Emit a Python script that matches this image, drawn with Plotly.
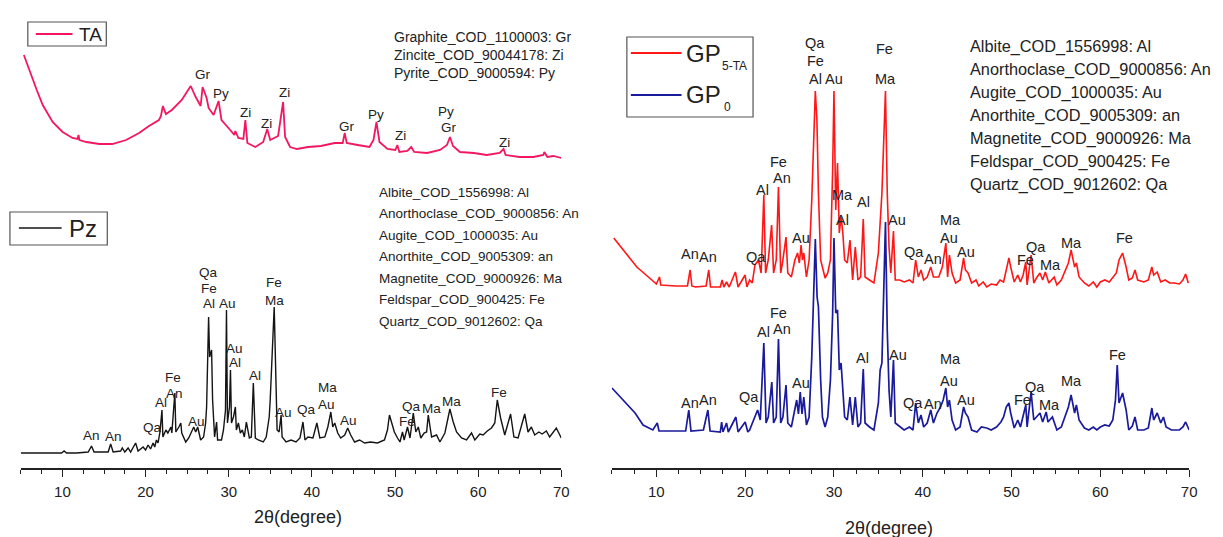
import plotly.graph_objects as go

W, H = 1223, 537
AXIS_Y = 468          # pixel row of both 2θ axes
FONT = "Liberation Sans, Arial, sans-serif"
INK = "#222222"

# ---------------- XRD patterns: 2θ (degree) and intensity (a.u.) ----------------
ta_2theta = [5.36, 6.08, 6.91, 7.63, 8.82, 10.02, 11.21, 11.81, 11.93, 12.05,
             12.89, 14.44, 15.99, 17.66, 19.22, 20.41, 21.61, 21.85, 22.08, 22.44,
             23.16, 24.35, 25.19, 25.43, 26.03, 26.62, 26.86, 27.10, 27.22, 27.34,
             27.58, 28.18, 28.78, 29.13, 29.97, 30.68, 30.80, 31.16, 31.76, 32.00,
             32.24, 33.20, 34.15, 34.63, 34.99, 35.94, 36.54, 36.78, 37.38, 38.21,
             39.53, 41.08, 42.75, 43.71, 43.95, 44.19, 45.50, 46.93, 47.41, 47.77,
             48.13, 49.09, 50.04, 50.28, 50.52, 51.48, 51.95, 52.31, 53.86, 55.42,
             56.25, 56.61, 56.97, 57.81, 59.48, 61.03, 62.59, 63.06, 63.30, 64.98,
             66.65, 67.84, 67.96, 68.32, 69.04, 69.40, 70.00]
ta_counts = [105, 88, 70, 55, 38, 28, 22, 21, 25, 20,
             18, 16, 16, 20, 27, 34, 40, 44, 54, 46,
             50, 60, 70, 74, 63, 54, 73, 67, 66, 62,
             52, 45, 59, 40, 32, 25, 29, 22, 21, 40,
             17, 13, 18, 31, 20, 24, 58, 23, 13, 11,
             13, 14, 17, 17, 27, 17, 15, 13, 20, 38,
             18, 11, 10, 15, 8, 9, 13, 8, 7, 10,
             15, 23, 14, 8, 7, 5, 7, 11, 5, 3,
             3, 5, 8, 3, 4, 3, 2]

pz_2theta = [5.0, 7.1, 9.9, 10.2, 10.5, 11.7, 13.1, 13.5, 13.8, 14.9,
             15.5, 15.8, 16.1, 17.0, 17.2, 17.5, 17.9, 18.2, 18.8, 19.1,
             19.7, 20.0, 20.3, 20.6, 20.9, 21.1, 21.3, 21.5, 21.73, 21.97,
             22.08, 22.44, 22.68, 23.04, 23.16, 23.52, 23.64, 24.0, 24.24, 24.35,
             24.83, 25.19, 25.55, 25.79, 26.03, 26.27, 26.62, 26.98, 27.22, 27.34,
             27.58, 27.7, 27.94, 28.06, 28.3, 28.54, 28.66, 29.13, 29.37, 29.61,
             29.73, 29.85, 30.09, 30.21, 30.33, 30.57, 30.8, 30.92, 31.16, 31.4,
             31.64, 31.88, 32.12, 32.48, 32.72, 32.96, 33.2, 33.55, 34.15, 34.51,
             34.87, 34.99, 35.47, 35.7, 35.82, 36.06, 36.3, 36.42, 36.9, 37.5,
             38.09, 38.57, 38.93, 39.17, 39.53, 40.13, 40.6, 40.96, 41.56, 41.92,
             42.28, 42.51, 42.75, 43.11, 43.47, 43.95, 44.31, 44.67, 45.14, 45.74,
             46.34, 47.06, 47.89, 48.73, 49.09, 49.33, 49.92, 50.3, 50.6, 50.9,
             51.1, 51.5, 51.8, 52.2, 52.5, 52.8, 53.1, 53.5, 53.8, 54.0,
             54.4, 55.0, 55.4, 56.0, 56.6, 57.0, 57.4, 58.0, 58.6, 59.2,
             59.6, 60.2, 60.6, 61.1, 61.6, 62.0, 62.3, 62.7, 63.2, 63.9,
             64.3, 64.8, 65.6, 66.0, 66.4, 66.8, 67.3, 67.7, 68.2, 68.6,
             69.4, 70.0]
pz_counts = [2, 2, 2, 4, 2, 2, 3, 9, 3, 3,
             3, 11, 3, 4, 7, 3, 7, 3, 12, 4,
             8, 5, 10, 6, 12, 8, 15, 12, 23, 45,
             18, 25, 22, 28, 22, 62, 23, 28, 32, 22,
             13, 17, 23, 28, 23, 28, 15, 18, 32, 48,
             138, 98, 105, 55, 18, 33, 15, 15, 25, 45,
             145, 32, 48, 85, 32, 38, 48, 25, 32, 22,
             25, 18, 33, 17, 18, 72, 17, 15, 13, 18,
             38, 55, 148, 72, 25, 23, 40, 18, 13, 15,
             13, 17, 33, 15, 18, 17, 32, 17, 18, 28,
             43, 28, 32, 22, 17, 20, 27, 20, 13, 15,
             12, 13, 12, 15, 25, 40, 23, 17, 13, 23,
             15, 28, 17, 42, 23, 28, 17, 22, 23, 40,
             18, 20, 13, 22, 46, 33, 23, 17, 15, 22,
             15, 21, 20, 24, 27, 32, 55, 37, 20, 41,
             18, 17, 41, 23, 28, 20, 23, 21, 24, 18,
             27, 17]

gp5ta_2theta = [5.2, 6.5, 7.8, 9.1, 10.0, 10.35, 10.5, 12.2, 13.5, 13.8,
                14.0, 14.4, 15.6, 15.9, 16.1, 17.2, 17.4, 17.6, 17.9, 18.2,
                18.9, 19.2, 19.99, 20.2, 20.5, 20.8, 21.1, 21.5, 21.8, 22.1,
                22.3, 22.6, 22.98, 23.2, 23.5, 23.75, 24.0, 24.2, 24.6, 24.8,
                25.2, 25.6, 25.9, 26.1, 26.3, 26.45, 26.6, 26.9, 27.2, 27.5,
                27.9, 28.08, 28.25, 28.5, 28.7, 29.0, 29.3, 29.6, 29.85, 30.0,
                30.2, 30.4, 30.6, 30.8, 31.0, 31.2, 31.5, 31.8, 32.1, 32.4,
                32.7, 33.0, 33.3, 33.5, 34.0, 34.5, 35.0, 35.2, 35.4, 35.8,
                36.0, 36.2, 36.4, 36.7, 36.9, 37.4, 37.9, 38.5, 38.9, 39.2,
                39.5, 39.8, 40.1, 40.5, 40.9, 41.2, 41.8, 42.2, 42.6, 42.8,
                43.0, 43.3, 43.7, 44.2, 44.6, 44.8, 45.1, 45.5, 46.0, 46.3,
                46.8, 47.2, 47.7, 48.3, 48.7, 49.1, 49.4, 49.7, 49.9, 50.3,
                50.7, 51.0, 51.3, 51.6, 51.75, 52.0, 52.2, 52.5, 52.8, 53.2,
                53.5, 53.8, 54.2, 54.8, 55.1, 55.6, 56.4, 56.7, 57.1, 57.3,
                57.6, 58.2, 58.7, 59.2, 59.6, 60.0, 60.5, 61.0, 61.4, 61.8,
                62.1, 62.5, 62.9, 63.2, 63.6, 63.9, 64.2, 64.9, 65.4, 65.8,
                66.0, 66.4, 66.8, 67.3, 67.8, 68.3, 68.9, 69.3, 69.6, 69.9]
gp5ta_counts = [52, 37, 23, 13, 6, 13, 5, 4, 4, 20,
                4, 3, 4, 20, 3, 3, 10, 3, 8, 3,
                18, 3, 15, 3, 10, 7, 25, 30, 17, 95,
                17, 30, 65, 17, 30, 103, 17, 27, 53, 17,
                13, 30, 37, 27, 45, 30, 37, 13, 30, 90,
                199, 170, 97, 30, 23, 12, 17, 30, 120, 199,
                80, 127, 57, 73, 57, 30, 27, 50, 10, 43,
                10, 13, 71, 13, 10, 7, 37, 63, 97, 199,
                97, 43, 17, 59, 10, 10, 8, 10, 7, 30,
                13, 20, 10, 13, 23, 13, 13, 23, 47, 13,
                35, 17, 7, 10, 32, 20, 17, 7, 10, 4,
                8, 3, 6, 5, 10, 8, 20, 32, 23, 8,
                15, 8, 15, 28, 5, 25, 35, 7, 12, 17,
                10, 18, 7, 13, 5, 10, 27, 40, 23, 27,
                13, 7, 4, 8, 3, 8, 10, 8, 13, 17,
                30, 37, 23, 10, 12, 20, 10, 8, 10, 23,
                15, 18, 8, 10, 7, 7, 6, 10, 16, 7]

gp0_2theta = [5.0, 6.3, 7.6, 8.5, 9.6, 10.1, 10.3, 12.0, 13.3, 13.65,
              13.9, 15.3, 15.8, 16.05, 17.2, 17.35, 17.5, 17.9, 18.1, 18.95,
              19.2, 20.0, 20.3, 20.5, 20.8, 21.1, 21.4, 21.7, 22.1, 22.35,
              22.6, 23.0, 23.2, 23.5, 23.75, 24.0, 24.25, 24.6, 24.8, 25.2,
              25.6, 25.8, 26.0, 26.2, 26.4, 26.6, 26.9, 27.2, 27.5, 27.9,
              28.1, 28.25, 28.5, 28.7, 29.0, 29.3, 29.6, 29.85, 30.0, 30.2,
              30.4, 30.6, 30.8, 31.0, 31.2, 31.5, 31.8, 32.1, 32.4, 32.7,
              33.0, 33.3, 33.5, 34.0, 34.5, 35.0, 35.2, 35.4, 35.8, 36.0,
              36.2, 36.4, 36.7, 36.9, 37.4, 37.9, 38.5, 38.9, 39.2, 39.5,
              39.8, 40.1, 40.5, 40.9, 41.2, 41.6, 42.0, 42.3, 42.6, 42.8,
              43.0, 43.3, 43.7, 44.2, 44.6, 44.8, 45.1, 45.5, 46.1, 46.6,
              47.2, 47.7, 48.3, 48.8, 49.1, 49.4, 49.7, 49.9, 50.3, 50.7,
              51.0, 51.3, 51.6, 51.75, 52.0, 52.2, 52.5, 52.8, 53.2, 53.5,
              53.9, 54.1, 54.6, 55.1, 55.6, 56.4, 56.7, 57.1, 57.3, 57.6,
              58.2, 58.7, 59.2, 59.6, 60.0, 60.5, 61.0, 61.4, 61.7, 61.9,
              62.1, 62.5, 62.9, 63.2, 63.6, 63.9, 64.2, 64.9, 65.4, 65.8,
              66.0, 66.4, 66.8, 67.1, 67.4, 68.0, 68.9, 69.3, 69.6, 70.0]
gp0_counts = [46, 34, 21, 9, 4, 11, 3, 3, 3, 24,
              3, 4, 24, 3, 2, 12, 2, 11, 2, 17,
              2, 12, 2, 4, 11, 17, 24, 14, 91, 11,
              17, 52, 11, 17, 95, 11, 17, 49, 11, 7,
              27, 34, 20, 42, 20, 37, 9, 17, 77, 195,
              137, 127, 54, 17, 7, 17, 54, 120, 196, 121,
              124, 64, 71, 44, 17, 14, 37, 9, 37, 7,
              11, 65, 11, 7, 4, 31, 64, 71, 212, 104,
              44, 17, 74, 11, 7, 4, 7, 4, 31, 11,
              19, 7, 11, 24, 11, 21, 27, 34, 46, 27,
              34, 14, 4, 7, 27, 21, 17, 4, 2, 7,
              6, 4, 7, 12, 17, 27, 31, 21, 6, 14,
              7, 17, 29, 7, 27, 42, 14, 17, 21, 12,
              22, 12, 17, 4, 7, 27, 39, 21, 29, 14,
              6, 4, 7, 4, 7, 9, 8, 14, 34, 69,
              31, 41, 24, 4, 8, 17, 4, 4, 6, 26,
              14, 21, 11, 17, 7, 4, 4, 7, 12, 4]

# phase reference lists
ta_phases = ["Graphite_COD_1100003: Gr", "Zincite_COD_90044178: Zi", "Pyrite_COD_9000594: Py"]
pz_phases = ["Albite_COD_1556998: Al", "Anorthoclase_COD_9000856: An", "Augite_COD_1000035: Au",
             "Anorthite_COD_9005309: an", "Magnetite_COD_9000926: Ma", "Feldspar_COD_900425: Fe",
             "Quartz_COD_9012602: Qa"]

# ---------------- figure ----------------
fig = go.Figure()


def add_pattern(x, counts, baseline_px, color, width, xa, ya):
    offset = AXIS_Y - baseline_px
    fig.add_trace(go.Scatter(
        x=x, y=[offset + c for c in counts], mode="lines",
        line=dict(color=color, width=width), xaxis=xa, yaxis=ya,
        showlegend=False, hoverinfo="skip"))


add_pattern(ta_2theta, ta_counts, 160, "#f2175f", 1.8, "x", "y")
add_pattern(pz_2theta, pz_counts, 455, "#141414", 1.4, "x", "y")
add_pattern(gp5ta_2theta, gp5ta_counts, 290, "#ff1616", 1.6, "x2", "y2")
add_pattern(gp0_2theta, gp0_counts, 434, "#1a1a9c", 1.7, "x2", "y2")

x_style = dict(range=[5, 70], showline=True, linecolor=INK, linewidth=1.5,
               ticks="outside", ticklen=7, tickwidth=1.3, tickcolor=INK,
               tick0=0, dtick=10, showgrid=False, zeroline=False,
               tickfont=dict(family=FONT, size=15, color=INK),
               ticklabelstandoff=2,
               minor=dict(ticks="outside", dtick=2.5, tick0=0, ticklen=4,
                          tickwidth=1.2, tickcolor=INK, showgrid=False),
               fixedrange=True)
y_style = dict(domain=[(H - AXIS_Y) / H, 1], range=[0, AXIS_Y], visible=False,
               fixedrange=True)

fig.update_layout(
    width=W, height=H, margin=dict(l=0, r=0, t=0, b=0),
    paper_bgcolor="white", plot_bgcolor="rgba(0,0,0,0)", showlegend=False,
    xaxis=dict(domain=[21 / W, 565 / W], anchor="y", **x_style),
    xaxis2=dict(domain=[616 / W, 1197 / W], anchor="y2", **x_style),
    yaxis=dict(**y_style),
    yaxis2=dict(**y_style),
)


def px(x):
    return x / W


def py(y):
    return 1 - y / H


annotations = []
shapes = []


def paper_text(x, y, text, size, anchor="left", family=FONT):
    annotations.append(dict(xref="paper", yref="paper", x=px(x), y=py(y), text=text,
                            showarrow=False, xanchor=anchor, yanchor="middle",
                            font=dict(family=family, size=size, color=INK)))


def peak_label(axis, two_theta, y_pix, text, size):
    annotations.append(dict(xref=axis, yref="y" if axis == "x" else "y2",
                            x=two_theta, y=AXIS_Y - y_pix, text=text, showarrow=False,
                            xanchor="center", yanchor="middle",
                            font=dict(family=FONT, size=size, color=INK)))


def box(x0, y0, x1, y1):
    shapes.append(dict(type="rect", xref="paper", yref="paper",
                       x0=px(x0), x1=px(x1), y0=py(y1), y1=py(y0),
                       line=dict(color="#555555", width=1.2), fillcolor="rgba(0,0,0,0)"))


def key_line(x0, x1, y, color, width):
    shapes.append(dict(type="line", xref="paper", yref="paper",
                       x0=px(x0), x1=px(x1), y0=py(y), y1=py(y),
                       line=dict(color=color, width=width)))


# legend keys
box(28, 22, 107, 46)
key_line(36, 73, 34, "#f2175f", 2)
paper_text(78, 34, "TA", 19)

box(10, 212, 108, 245)
key_line(19, 62, 228, "#141414", 1.6)
paper_text(67, 229, "Pz", 24)

box(631, 37, 758, 117)
key_line(635, 686, 53, "#ff1616", 2)
key_line(635, 686, 95, "#1a1a9c", 2)
paper_text(689, 53, "GP", 24)
paper_text(725, 66, "5-TA", 12)
paper_text(689, 95, "GP", 24)
paper_text(727, 107, "0", 12)

# phase lists
for i, t in enumerate(ta_phases):
    paper_text(395, 37 + 18 * i, t, 14)
for i, t in enumerate(pz_phases):
    paper_text(379, 192 + 21.5 * i, t, 13.5)
for i, t in enumerate(pz_phases):
    paper_text(974, 46 + 23 * i, t, 16.3)

# axis titles
paper_text(300, 517, "2θ(degree)", 18, anchor="center")
paper_text(895, 528, "2θ(degree)", 18, anchor="center")

# peak assignments, TA
for t2, yp, s in [(26.86, 74, "Gr"), (29.13, 93, "Py"), (32.0, 112, "Zi"), (34.5, 123, "Zi"),
                  (36.66, 92, "Zi"), (44.19, 126, "Gr"), (47.77, 114, "Py"), (50.64, 135, "Zi"),
                  (56.13, 111, "Py"), (56.49, 127, "Gr"), (63.18, 142, "Zi")]:
    peak_label("x", t2, yp, s, 13.5)

# peak assignments, Pz
for t2, yp, s in [(13.45, 435, "An"), (16.1, 436, "An"), (20.85, 427, "Qa"), (21.85, 402, "Al"),
                  (23.25, 377, "Fe"), (23.45, 393, "An"), (26.1, 421, "Au"),
                  (27.6, 272, "Qa"), (27.65, 288, "Fe"), (27.6, 303, "Al"), (29.9, 303, "Au"),
                  (30.75, 348, "Au"), (30.75, 362, "Al"), (33.2, 375, "Al"),
                  (35.4, 282, "Fe"), (35.5, 300, "Ma"), (36.6, 412, "Au"), (39.3, 409, "Qa"),
                  (41.85, 387, "Ma"), (41.8, 404, "Au"), (44.35, 420, "Au"),
                  (51.95, 406, "Qa"), (51.5, 421, "Fe"), (54.35, 408, "Ma"), (56.75, 401, "Ma"),
                  (62.45, 392, "Fe")]:
    peak_label("x", t2, yp, s, 13.5)

# peak assignments, GP5-TA
for t2, yp, s in [(27.85, 43, "Qa"), (27.9, 61, "Fe"), (27.95, 79, "Al"), (29.95, 79, "Au"),
                  (35.7, 49, "Fe"), (35.75, 79, "Ma"),
                  (23.8, 162, "Fe"), (24.1, 178, "An"), (22.0, 190, "Al"),
                  (30.95, 195, "Ma"), (30.95, 220, "Al"), (33.3, 202, "Al"), (37.1, 220, "Au"),
                  (26.25, 238, "Au"), (13.84, 254, "An"), (15.85, 257, "An"), (21.2, 257, "Qa"),
                  (39.0, 252, "Qa"), (41.1, 259, "An"), (43.1, 220, "Ma"), (42.9, 238, "Au"),
                  (44.9, 252, "Au"), (51.6, 260, "Fe"), (52.7, 247, "Qa"), (54.4, 265, "Ma"),
                  (56.7, 243, "Ma"), (62.7, 238, "Fe")]:
    peak_label("x2", t2, yp, s, 14.5)

# peak assignments, GP0
for t2, yp, s in [(13.84, 403, "An"), (15.85, 400, "An"), (20.4, 397, "Qa"), (22.1, 332, "Al"),
                  (23.8, 313, "Fe"), (24.13, 329, "An"), (26.25, 383, "Au"), (33.2, 358, "Al"),
                  (37.2, 355, "Au"), (38.9, 403, "Qa"), (41.1, 404, "An"), (43.1, 359, "Ma"),
                  (42.9, 381, "Au"), (44.9, 400, "Au"), (51.2, 400, "Fe"), (52.6, 387, "Qa"),
                  (54.3, 405, "Ma"), (56.8, 381, "Ma"), (61.9, 355, "Fe")]:
    peak_label("x2", t2, yp, s, 14.5)

fig.update_layout(annotations=annotations, shapes=shapes)
fig.write_html("out.html")
